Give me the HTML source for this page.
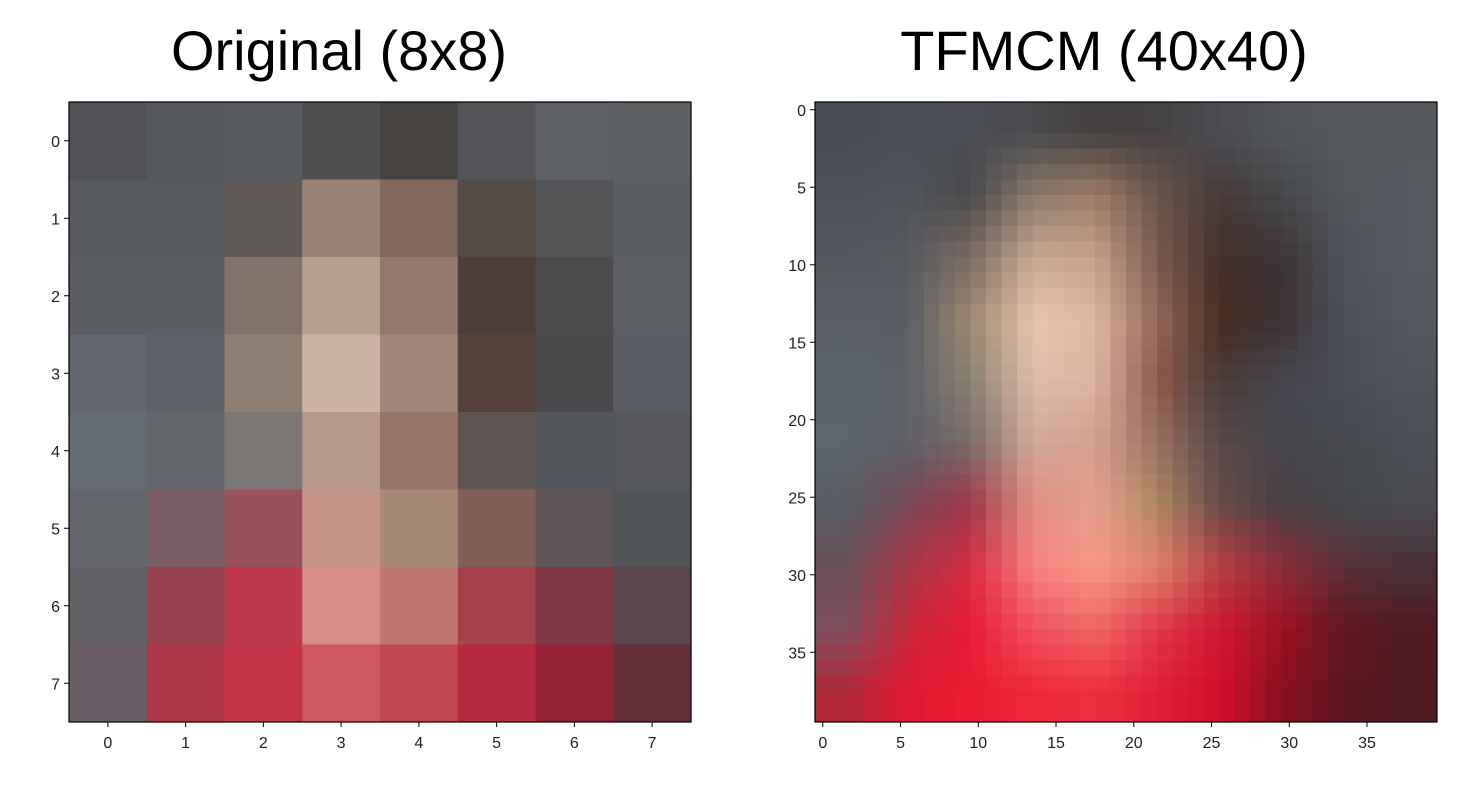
<!DOCTYPE html>
<html><head><meta charset="utf-8"><style>
body{margin:0;background:#fff;}
svg{display:block;font-family:"Liberation Sans",sans-serif;}
</style></head><body>
<svg id="fig" width="1482" height="788" viewBox="0 0 1482 788">
<text x="339" y="70" font-size="56" text-anchor="middle" fill="#000">Original (8x8)</text>
<text x="1104" y="70" font-size="56" text-anchor="middle" fill="#000">TFMCM (40x40)</text>
<g id="left"></g>
<g id="right"></g>
</svg>
<script>
const origColors = [
["#505257","#55585d","#585b60","#504e50","#474341","#545459","#5e6165","#5d6163"],
["#575b5f","#575b5f","#5f5a57","#998273","#82675a","#554b46","#545557","#5c5f62"],
["#5b5e62","#5b5e63","#83726a","#b89e8c","#93786b","#4f3e38","#4c4b4c","#5c5f64"],
["#636770","#5e6167","#8f7f72","#ccb2a2","#a28478","#55413a","#4b484b","#5a5d63"],
["#656b73","#64686c","#7c7775","#b9998c","#987466","#5f5553","#53565b","#56585d"],
["#63666b","#7b5e66","#99525b","#c49486","#a88a74","#815e56","#605456","#515558"],
["#636166","#98434e","#bd384a","#d88c86","#c0766e","#a64249","#813846","#5a464b"],
["#6b5e66","#b03747","#c63448","#ce5a60","#c0464f","#b6293f","#952234","#652f38"]];
const origTicks = [0,1,2,3,4,5,6,7];
const tfColors = [
["#474b52","#4a4e55","#4a4d54","#4a4a4e","#45403f","#454243","#4a4c52","#515559","#56595e","#565a5f"],
["#4e5258","#50545a","#4a4a4c","#8a7a6a","#a07c64","#6a554c","#463936","#45474b","#53575c","#575b61"],
["#54585e","#575b60","#7a6a60","#c8a890","#c8a088","#7a5a4e","#45302a","#3c3436","#4f5359","#575b61"],
["#5a5f66","#5a5f66","#a08870","#e8c4aa","#e0b8a0","#946858","#4a2c22","#3c3134","#4b4f57","#54585f"],
["#5c646b","#5c6268","#8a8070","#e0bca8","#dcb4a0","#8a5a4a","#4a3a38","#45454d","#4a4d55","#50545a"],
["#5c666c","#5e6068","#7a6a68","#d0a898","#d4a08c","#9a7060","#584848","#45464c","#45484d","#4b4e54"],
["#585e64","#7a4858","#a03848","#e09080","#e4a08c","#b08860","#6a4a48","#4a3e42","#44474a","#494b50"],
["#6a5058","#a83848","#d82c40","#f88080","#f89888","#e08070","#b84040","#8a2c38","#5a3038","#4a3038"],
["#805060","#c82838","#e81c34","#f05060","#f06868","#e03848","#d01830","#a01020","#601820","#501c22"],
["#b02838","#e01a30","#ec1c34","#ee2838","#ec3040","#e02038","#d01028","#8a1020","#5a1820","#501a20"]];
const tfTicks = [0,5,10,15,20,25,30,35];
const tfSize = 40;

const NS="http://www.w3.org/2000/svg";
function mk(tag,attrs,parent){const e=document.createElementNS(NS,tag);for(const k in attrs)e.setAttribute(k,attrs[k]);parent.appendChild(e);return e;}
function hex(c){return [parseInt(c.slice(1,3),16),parseInt(c.slice(3,5),16),parseInt(c.slice(5,7),16)];}

function axes(g,x0,y0,w,h,n,ticks,name){
  const cs=w/n;
  const sx=i=>x0+(i+0.5)*cs, sy=i=>y0+(i+0.5)*(h/n);
  const fr=mk('rect',{x:x0,y:y0,width:w,height:h,fill:'none',stroke:'#000','stroke-width':1.2},g);
  
  
  ticks.forEach(t=>{
    const a=mk('line',{x1:x0,x2:x0-5,y1:sy(t),y2:sy(t),stroke:'#000'},g);
    
    
    const l=mk('text',{x:x0-9,y:sy(t)+6,'font-size':16,'text-anchor':'end',fill:'#222'},g);
    
    
    l.textContent=t;
    const b=mk('line',{y1:y0+h,y2:y0+h+5,x1:sx(t),x2:sx(t),stroke:'#000'},g);
    
    
    const m=mk('text',{x:sx(t),y:y0+h+26,'font-size':16,'text-anchor':'middle',fill:'#222'},g);
    
    
    m.textContent=t;
  });
}

(function(){
  const g=document.getElementById('left');
  const x0=69,y0=102,w=622,h=620,n=origColors.length,cw=w/n,ch=h/n;
  origColors.forEach((row,r)=>row.forEach((c,k)=>{
    const e=mk('rect',{x:x0+k*cw,y:y0+r*ch,width:cw+0.5,height:ch+0.5,fill:c},g);
    
    
  }));
  axes(g,x0,y0,w,h,n,origTicks,'left');
})();
(function(){
  const g=document.getElementById('right');
  const x0=815,y0=102,w=622,h=620,n=tfSize,cw=w/n,ch=h/n;
  const m=tfColors.length, f=n/m;
  const grid=tfColors.map(r=>r.map(hex));
  function samp(gy,gx){
    gy=Math.max(0,Math.min(m-1,gy));gx=Math.max(0,Math.min(m-1,gx));
    const y1=Math.floor(gy),x1=Math.floor(gx),y2=Math.min(m-1,y1+1),x2=Math.min(m-1,x1+1);
    const fy=gy-y1,fx=gx-x1;const o=[];
    for(let c=0;c<3;c++){
      const a=grid[y1][x1][c]*(1-fx)+grid[y1][x2][c]*fx;
      const b=grid[y2][x1][c]*(1-fx)+grid[y2][x2][c]*fx;
      o.push(Math.round(a*(1-fy)+b*fy));
    }
    return 'rgb('+o.join(',')+')';
  }
  for(let r=0;r<n;r++)for(let k=0;k<n;k++){
    const col=samp((r+0.5)/f-0.5,(k+0.5)/f-0.5);
    const e=mk('rect',{x:x0+k*cw,y:y0+r*ch,width:cw+0.5,height:ch+0.5,fill:col},g);
    
    
  }
  axes(g,x0,y0,w,h,n,tfTicks,'right');
})();
</script>
</body></html>
